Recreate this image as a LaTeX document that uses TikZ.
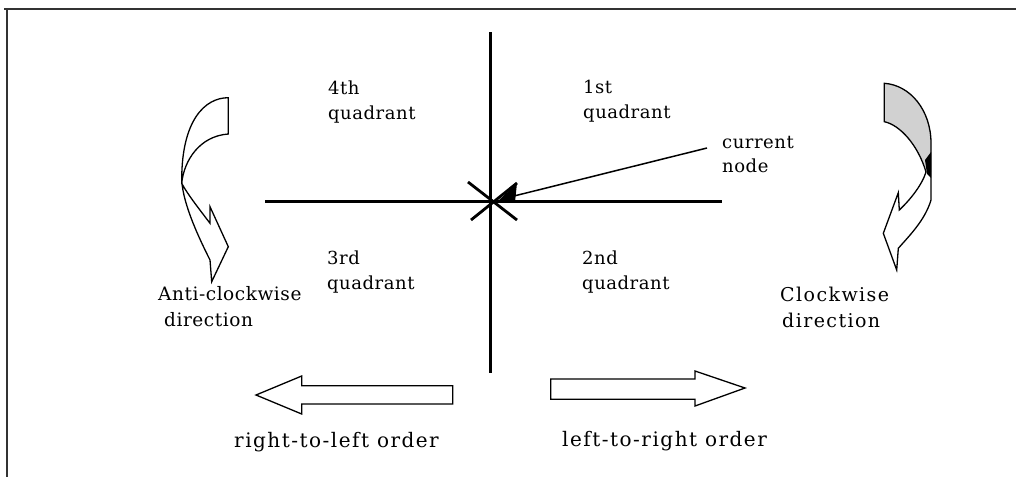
\documentclass[tikz,border=0pt]{standalone}
\usepackage{fontspec}
\newfontfamily\lblfont[LetterSpace=3]{DejaVu Serif}
\newfontfamily\widefont[LetterSpace=7.5]{DejaVu Serif}
\begin{document}
\begin{tikzpicture}[x=1pt,y=-1pt,
  axis/.style={line width=3pt},
  lbl/.style={anchor=base west, align=left, inner sep=0pt, font=\lblfont\fontsize{18}{25}\selectfont},
  blockarrow/.style={draw, line width=1.3pt, fill=white, line join=miter},
  frame/.style={line width=2pt, draw=black!80},
]
\useasboundingbox (0,0) rectangle (1016,477);
% frame
\draw[frame] (4,9) -- (1016,9);
\draw[frame] (7,9) -- (7,477);
% axes
\coordinate (o) at (490,201);
\coordinate (vt) at (490,32);
\coordinate (vb) at (490,373);
\coordinate (hl) at (265,201);
\coordinate (hr) at (722,201);
\draw[axis] (vt) -- (vb);
\draw[axis] (hl) -- (hr);
% cross at current node
\coordinate (d1a) at (468,182);
\coordinate (d1b) at (517,220);
\coordinate (d2a) at (471,220);
\coordinate (d2b) at (517,183);
\draw[line width=2.8pt] (d1a) -- (d1b);
\draw[line width=2.8pt] (d2a) -- (d2b);
% pointer to current node
\coordinate (pe) at (707,148);
\coordinate (pt) at (510,197);
\draw[line width=1.5pt] (pe) -- (pt);
\fill (497,202) -- (517,183) -- (515,202) -- cycle;
% quadrant labels
\node[lbl] (q4) at (328,119) {4th\\quadrant};
\node[lbl] (q1) at (583,118) {1st\\quadrant};
\node[lbl] (q3) at (327,289) {3rd\\quadrant};
\node[lbl] (q2) at (582,289) {2nd\\quadrant};
\node[lbl, font=\lblfont\fontsize{18}{24}\selectfont] (cn) at (722,172) {current\\node};
% anti-clockwise curved arrow
\draw[blockarrow] (228.3,97.7) .. controls (205,97.7) and (181.7,120) .. (181.7,180)
  .. controls (183,205) and (200,240) .. (210,260) -- (211.7,281.7) -- (228.3,246.7)
  -- (210,206.7) -- (210,223.3) .. controls (200,210) and (188,195) .. (181.7,183.3)
  .. controls (184,160) and (200,136) .. (228.3,134) -- cycle;
% clockwise curved arrow
\fill[black!18] (884.3,83.3) .. controls (910,85) and (931,110) .. (931,143.3) -- (931,172)
  -- (926,172) .. controls (918,145) and (900,125) .. (884.3,121.7) -- cycle;
\fill (925,160) -- (931,152) -- (931,178) -- (927,174) -- cycle;
\draw[blockarrow, fill=none] (884.3,83.3) .. controls (910,85) and (931,110) .. (931,143.3)
  -- (931,200) .. controls (925,220) and (910,235) .. (898.3,248.3) -- (896.7,270)
  -- (883.3,233.3) -- (898.3,192.7) -- (899.3,210)
  .. controls (910,200) and (922,185) .. (926,172)
  .. controls (918,145) and (900,125) .. (884.3,121.7) -- cycle;
\node[lbl, font=\lblfont\fontsize{18.5}{26}\selectfont] (acw) at (158,326) {Anti-clockwise\\\hspace*{6pt}direction};
\node[lbl, font=\widefont\fontsize{19}{26}\selectfont] (cw) at (780,327) {Clockwise\\\hspace*{2pt}direction};
% order arrows
\draw[blockarrow] (452.7,385.7) -- (301.7,385.7) -- (301.7,376) -- (256,395)
  -- (301.7,414) -- (301.7,404) -- (452.7,404) -- cycle;
\draw[blockarrow] (550.7,379) -- (695,379) -- (695,371) -- (745,388)
  -- (695,406) -- (695,399.3) -- (550.7,399.3) -- cycle;
\node[lbl, font=\widefont\fontsize{20}{25}\selectfont] (rl) at (234,447) {right-to-left order};
\node[lbl, font=\widefont\fontsize{20}{25}\selectfont] (lr) at (562,446) {left-to-right order};
\end{tikzpicture}
\end{document}
